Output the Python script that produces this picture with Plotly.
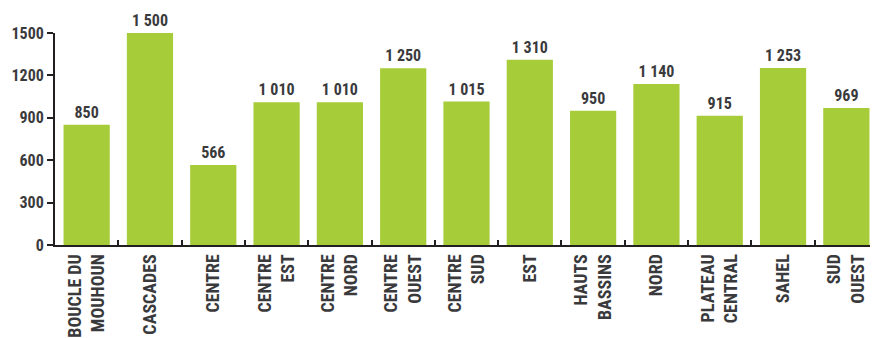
import plotly.graph_objects as go

categories = ["BOUCLE DU<br>MOUHOUN", "CASCADES", "CENTRE", "CENTRE<br>EST", "CENTRE<br>NORD",
              "CENTRE<br>OUEST", "CENTRE<br>SUD", "EST", "HAUTS<br>BASSINS", "NORD",
              "PLATEAU<br>CENTRAL", "SAHEL", "SUD<br>OUEST"]
values = [850, 1500, 566, 1010, 1010, 1250, 1015, 1310, 950, 1140, 915, 1253, 969]
labels = ["850", "1 500", "566", "1 010", "1 010", "1 250", "1 015", "1 310", "950", "1 140", "915", "1 253", "969"]
yticks = [0, 300, 600, 900, 1200, 1500]

FONT = "Roboto Condensed, Open Sans Condensed, sans-serif"
TXT = "#3a3a3c"

fig = go.Figure(go.Bar(
    x=categories, y=values, text=labels, textposition="outside",
    textfont=dict(family=FONT, size=16, color=TXT, weight="bold"),
    marker=dict(color="#a6cd39", line=dict(width=0)),
    cliponaxis=False,
))

# the page body adds an 8px offset, so the figure is sized 8px smaller
fig.update_layout(
    width=870, height=330,
    margin=dict(l=47, r=0, t=25, b=93, autoexpand=False),
    paper_bgcolor="white", plot_bgcolor="white",
    bargap=0.27,
    showlegend=False,
    font=dict(family=FONT, color=TXT),
)
fig.update_xaxes(
    automargin=False,
    showline=True, linecolor="#231f20", linewidth=2,
    ticks="inside", tickson="boundaries", ticklen=5, tickwidth=2, tickcolor="#231f20",
    tickangle=-90, tickfont=dict(family=FONT, size=18, color=TXT, weight="bold"),
    showgrid=False,
)
fig.update_yaxes(
    automargin=False,
    range=[0, 1500], tickvals=yticks, ticktext=[str(v) for v in yticks],
    showline=True, linecolor="#231f20", linewidth=2,
    ticks="outside", ticklen=6, tickwidth=2, tickcolor="#231f20",
    tickfont=dict(family=FONT, size=16, color=TXT, weight="bold"),
    showgrid=False, zeroline=False,
)

fig.write_html("out.html")
